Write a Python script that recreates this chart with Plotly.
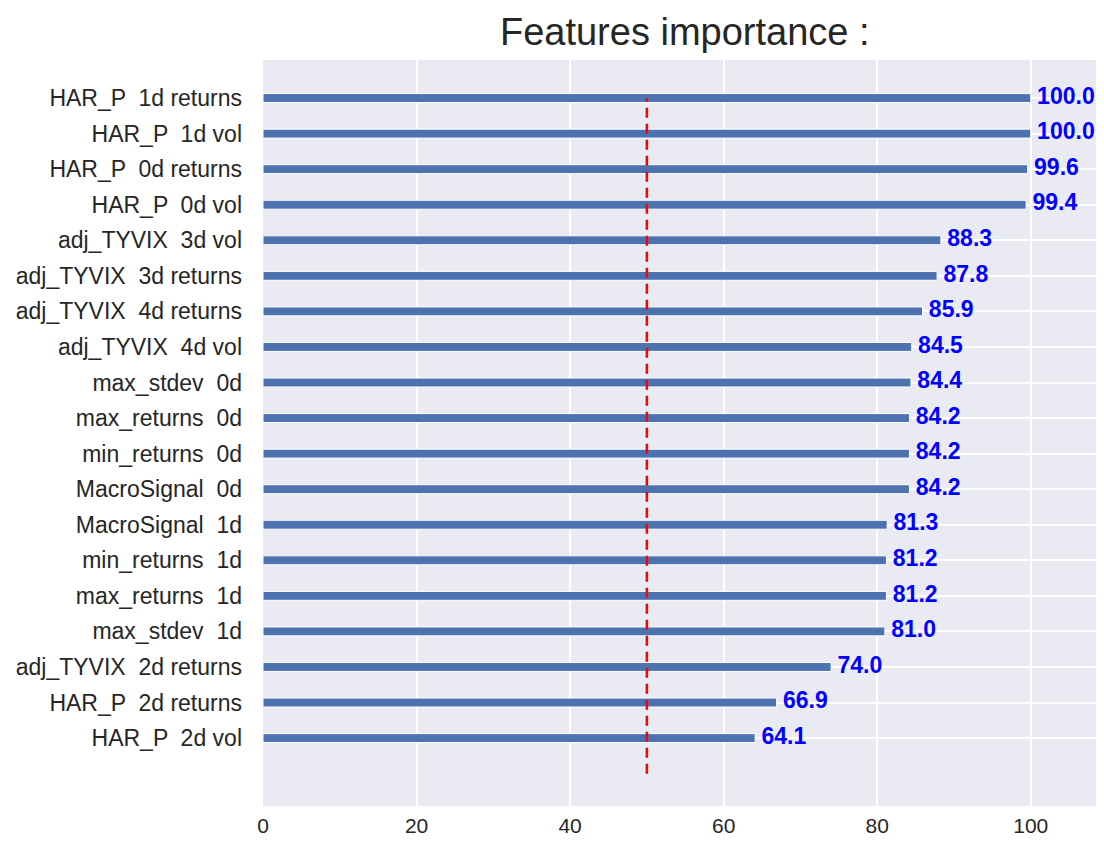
import plotly.graph_objects as go

# features listed bottom to top
features = [
    "HAR_P  2d vol", "HAR_P  2d returns", "adj_TYVIX  2d returns", "max_stdev  1d",
    "max_returns  1d", "min_returns  1d", "MacroSignal  1d", "MacroSignal  0d",
    "min_returns  0d", "max_returns  0d", "max_stdev  0d", "adj_TYVIX  4d vol",
    "adj_TYVIX  4d returns", "adj_TYVIX  3d returns", "adj_TYVIX  3d vol",
    "HAR_P  0d vol", "HAR_P  0d returns", "HAR_P  1d vol", "HAR_P  1d returns",
]
importance = [64.1, 66.9, 74.0, 81.0, 81.2, 81.2, 81.3, 84.2, 84.2, 84.2, 84.4,
              84.5, 85.9, 87.8, 88.3, 99.4, 99.6, 100.0, 100.0]
threshold = 50
x_ticks = [0, 20, 40, 60, 80, 100]

pos = list(range(len(features)))
labels = [f.replace("  ", " \u00a0") for f in features]

fig = go.Figure()
fig.add_trace(go.Bar(
    x=importance, y=pos, orientation="h", width=0.25,
    marker=dict(color="#4C72B0", line=dict(color="white", width=1)),
    hoverinfo="skip",
))
fig.add_trace(go.Scatter(
    x=importance, y=pos, mode="text",
    text=["\u00a0" + f"{v:.1f}" for v in importance], textposition="middle right",
    textfont=dict(family="Liberation Sans, Arial", size=23, color="blue", weight="bold"),
    cliponaxis=False, hoverinfo="skip",
))
fig.add_trace(go.Scatter(
    x=[threshold, threshold], y=[-1, len(features) - 1], mode="lines",
    line=dict(color="red", width=2.5, dash="10px,6px"), hoverinfo="skip",
))

fig.update_layout(
    width=1088, height=830,
    margin=dict(l=255, r=0, t=52, b=32),
    paper_bgcolor="white", plot_bgcolor="#EAEAF2",
    showlegend=False,
    font=dict(family="Liberation Sans, Arial", size=21, color="#262626"),
    title=dict(text="Features importance :", x=0.622, xanchor="center",
               y=0.971, yanchor="middle",
               font=dict(size=38, color="#262626")),
)
fig.update_xaxes(range=[0, 108.5], tickvals=x_ticks, gridcolor="white", gridwidth=1.5,
                 zeroline=False, showline=False, ticks="", ticklabelstandoff=5,
                 automargin=False)
fig.update_yaxes(range=[-1.91, 19.07], tickvals=pos, ticktext=labels, gridcolor="white",
                 gridwidth=1.5, zeroline=False, showline=False, ticks="", ticklabelstandoff=20,
                 tickfont=dict(size=23), automargin=False)

fig.write_html("out.html")
